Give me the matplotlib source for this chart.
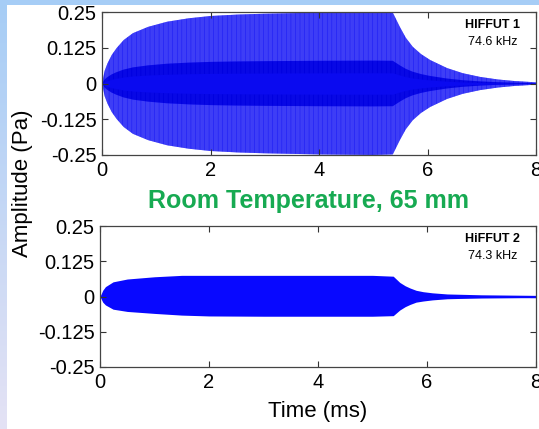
import numpy as np
import matplotlib.pyplot as plt
from matplotlib.colors import LinearSegmentedColormap

plt.rcParams['font.family'] = ['Liberation Sans', 'DejaVu Sans']
plt.rcParams['hatch.linewidth'] = 0.8

# envelope of HIFFUT 1 signal (time in ms, amplitude in Pa)
t_top = [0, 0.05, 0.1, 0.18, 0.27, 0.4, 0.57, 0.85, 1.2, 1.6, 2.0, 2.5, 3.0, 4.0, 5.0, 5.36,
         5.49, 5.6, 5.73, 5.88, 6.05, 6.36, 6.65, 6.97, 7.3, 7.58, 8.0]
env_top = [0, 0.045, 0.07, 0.1, 0.124, 0.152, 0.176, 0.198, 0.216, 0.228, 0.236, 0.241, 0.244,
           0.248, 0.25, 0.248, 0.198, 0.16, 0.128, 0.103, 0.082, 0.054, 0.036, 0.023, 0.014,
           0.009, 0.004]

# envelope of HiFFUT 2 signal
t_bot = [0, 0.05, 0.1, 0.24, 0.5, 1.0, 1.5, 2.0, 3.0, 4.0, 5.0, 5.38, 5.5, 5.6, 5.69, 5.8,
         5.93, 6.1, 6.37, 7.0, 8.0]
upper_bot = [0, 0.022, 0.035, 0.052, 0.062, 0.07, 0.075, 0.075, 0.075, 0.075, 0.075, 0.072,
             0.05, 0.038, 0.03, 0.022, 0.017, 0.013, 0.009, 0.006, 0.004]
lower_bot = [0, -0.02, -0.03, -0.045, -0.053, -0.06, -0.066, -0.069, -0.07, -0.07, -0.07, -0.068,
             -0.048, -0.036, -0.028, -0.02, -0.016, -0.012, -0.008, -0.005, -0.003]

labels = ["HIFFUT 1", "HiFFUT 2"]
freqs = ["74.6 kHz", "74.3 kHz"]
yticks = [-0.25, -0.125, 0, 0.125, 0.25]
ytick_labels = ["-0.25", "-0.125", "0", "0.125", "0.25"]
xticks = [0, 2, 4, 6, 8]

W, H = 539, 429
fig = plt.figure(figsize=(W / 100, H / 100), dpi=100)

# slide-like background strips
bg = fig.add_axes([0, 0, 1, 1], zorder=-5)
bg.set_xlim(0, W)
bg.set_ylim(H, 0)
bg.axis('off')
cmap = LinearSegmentedColormap.from_list('bgstrip', ['#a6cdf6', '#e4e2f4'])
bg.imshow(np.linspace(0, 1, 200).reshape(-1, 1), cmap=cmap, aspect='auto',
          extent=[0, 7, H, 0])
bg.add_patch(plt.Rectangle((0, 0), W, 5, color='#a6cdf6', lw=0))

ax1 = fig.add_axes([102 / W, 1 - 155 / H, 434 / W, 143 / H])
ax2 = fig.add_axes([100 / W, 1 - 367 / H, 436 / W, 141 / H])

t_top = np.array(t_top)
env_top = np.array(env_top)
# dense carrier shows as a light band with dark stripes and a darker core
ax1.fill_between(t_top, -env_top, env_top, facecolor='#a0a0ff', edgecolor='#2a2af5',
                 hatch='|' * 13, lw=0)
ax1.fill_between(t_top, -0.32 * env_top, 0.32 * env_top, facecolor='#3030ff',
                 edgecolor='#0000e0', hatch='|' * 13, lw=0)
ax1.fill_between(t_top, -0.15 * env_top, 0.15 * env_top, color='#0a0af0', lw=0)

ax2.fill_between(t_bot, lower_bot, upper_bot, color='#0808ff', lw=0)
ax2.plot([t_bot[-6], 8], [0, 0], color='#0808ff', lw=1)

for ax, lab, fr in zip([ax1, ax2], labels, freqs):
    ax.set_xlim(0, 8)
    ax.set_ylim(-0.25, 0.25)
    ax.set_xticks(xticks)
    ax.set_xticklabels([str(x) for x in xticks])
    ax.set_yticks(yticks)
    ax.set_yticklabels(ytick_labels)
    ax.tick_params(direction='in', length=4, width=0.8, top=True, right=True,
                   labelsize=14.5, color='#333333', pad=4)
    for sp in ax.spines.values():
        sp.set_color('#444444')
        sp.set_linewidth(0.9)
    ax.text(0.9, 0.91, lab, transform=ax.transAxes, ha='center', va='center',
            fontsize=9, fontweight='bold')
    ax.text(0.9, 0.79, fr, transform=ax.transAxes, ha='center', va='center',
            fontsize=9)

fig.text(308 / W, 1 - 201 / H, "Room Temperature, 65 mm", ha='center', va='center',
         fontsize=18, fontweight='bold', color='#17aa52')
fig.text(23 / W, 1 - 183 / H, "Amplitude (Pa)", rotation=90, ha='center', va='center',
         fontsize=16)
fig.text(318 / W, 1 - 412 / H, "Time (ms)", ha='center', va='center', fontsize=16)

fig.savefig('out.png', dpi=100)
